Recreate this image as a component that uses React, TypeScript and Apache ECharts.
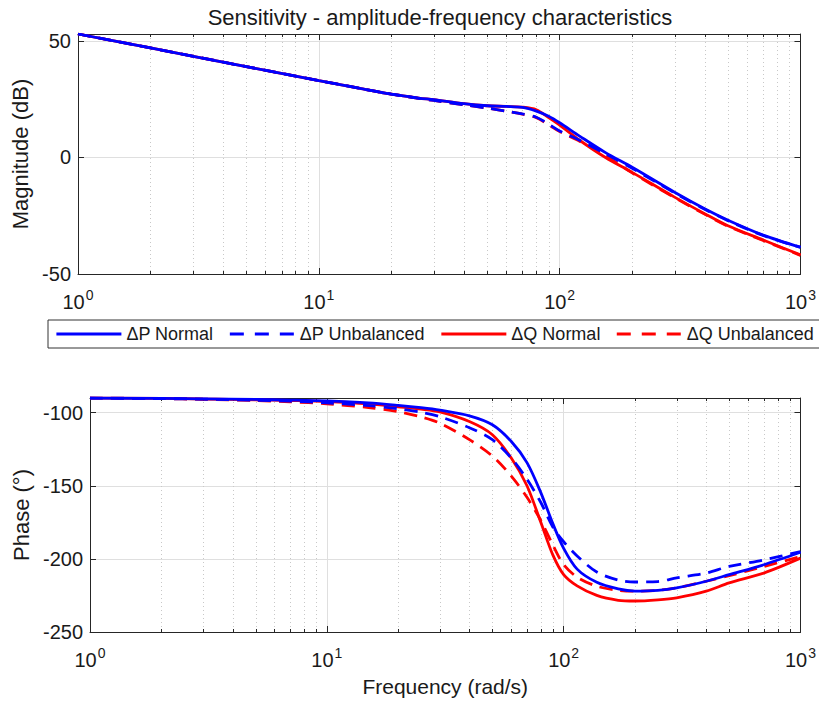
import React, { useEffect, useRef } from 'react';
import * as echarts from 'echarts';

const FONT = '"Liberation Sans", Arial, Helvetica, sans-serif';

const seriesNames = ['ΔP Normal', 'ΔP Unbalanced', 'ΔQ Normal', 'ΔQ Unbalanced'];
const seriesColors = ['#0000ff', '#0000ff', '#ff0000', '#ff0000'];
const seriesDashed = [false, true, false, true];

// Magnitude (dB)
const magFreq = [1, 2, 5, 10, 15, 20, 26, 30, 40, 50, 60, 70, 80, 90, 100, 121, 155, 200, 300, 400, 500, 700, 1000];
const magPNormal = [53, 47, 39, 33, 29.6, 27.2, 25.5, 24.8, 23.1, 22.2, 21.9, 21.5, 19.9, 17.7, 14.9, 9.2, 2.1, -4.2, -14.9, -22, -26.9, -33.3, -38.5];
const magPUnbal = [53, 47, 39, 33, 29.6, 27.2, 25.4, 24.5, 22.6, 21.2, 19.9, 18.7, 17.3, 14.3, 11.4, 7.4, 1.6, -4.6, -15.2, -22.2, -27.1, -33.5, -38.6];
const magQNormal = [53, 47, 39, 33, 29.6, 27.2, 25.5, 24.8, 23.1, 22.2, 21.9, 21.6, 20.5, 17.1, 13.9, 7.4, 0, -6.4, -17, -24.1, -29.3, -35.4, -41.8];
const magQUnbal = [53, 47, 39, 33, 29.6, 27.2, 25.4, 24.5, 22.6, 21.2, 19.9, 18.6, 17.1, 14.0, 11.1, 7.0, 0.8, -6.6, -17.2, -24.3, -29.5, -35.6, -42];

// Phase (deg)
const phaseFreq = [1, 2, 3, 5, 7, 10, 15, 20, 25, 30, 40, 50, 60, 70, 80, 90, 100, 114, 138, 170, 200, 250, 300, 400, 500, 700, 1000];
const phPNormal = [-90, -90.3, -90.6, -91, -91.4, -92, -93.3, -95, -96.6, -98.3, -102.2, -108.3, -119.6, -134.2, -154.5, -175.9, -192.8, -207, -216, -220.5, -222, -221.5, -219.8, -215.3, -210.8, -204, -195.5];
const phPUnbal = [-90, -90.4, -90.8, -91.5, -92.2, -93.3, -95.2, -97.3, -99.8, -102.8, -110.3, -118.5, -130.9, -145.5, -161.3, -178.2, -188.3, -198, -209, -214.5, -215.8, -215.5, -213, -209.7, -205.2, -200.7, -195];
const phQNormal = [-90, -90.3, -90.7, -91.2, -91.7, -92.4, -94, -96, -97.6, -99.5, -106.1, -115.1, -130.9, -150, -174.8, -197.3, -210.8, -218.5, -225, -228.3, -228.8, -228, -226.6, -222.1, -216.4, -209.7, -199.5];
const phQUnbal = [-90, -90.4, -90.9, -91.7, -92.6, -94, -96.5, -99.3, -103, -107.2, -118.5, -129.7, -143.2, -157.9, -173.6, -190.5, -204, -212.5, -218.7, -221.5, -222.1, -221.5, -219.8, -215.3, -211.5, -205.2, -198.4];

const minorFreqs = [2, 3, 4, 5, 6, 7, 8, 9, 20, 30, 40, 50, 60, 70, 80, 90, 200, 300, 400, 500, 600, 700, 800, 900];

const magRange = [-50, 53];
const phaseRange = [-250, -90];
const yTickStep = 50;

const FRAME = '#262626';
const GRID = '#dfdfdf';
const MINOR = '#c8c8c8';
const TEXT = '#1a1a1a';
const PLOT_DASH = [13, 8];
const LEGEND_DASH = [14, 11];

function pairs(xs: number[], ys: number[]) {
  return xs.map((x, i) => [x, ys[i]]);
}

function makeXAxes(gridIndex: number) {
  const common = {
    type: 'log' as const,
    logBase: 10,
    min: 1,
    max: 1000,
    gridIndex,
    axisLine: { show: true, onZero: false, lineStyle: { color: FRAME, width: 1 } },
    axisTick: { show: true, inside: true, length: 6, lineStyle: { color: FRAME } },
  };
  return [
    {
      ...common,
      position: 'bottom',
      splitLine: { show: true, lineStyle: { color: GRID, width: 1 } },
      axisLabel: {
        show: true,
        margin: 14,
        color: TEXT,
        fontFamily: FONT,
        formatter: (v: number) => `{b|10}{s|${Math.round(Math.log10(v))}}`,
        rich: {
          b: { fontSize: 20, fontFamily: FONT, color: TEXT, verticalAlign: 'bottom', lineHeight: 24 },
          s: { fontSize: 14, fontFamily: FONT, color: TEXT, verticalAlign: 'top', lineHeight: 24, padding: [0, 0, 0, 1] },
        },
      },
    },
    {
      ...common,
      position: 'top',
      splitLine: { show: false },
      axisLabel: { show: false },
    },
  ];
}

function makeYAxes(gridIndex: number, range: number[], name: string, nameGap: number) {
  const common = {
    type: 'value' as const,
    min: range[0],
    max: range[1],
    interval: yTickStep,
    gridIndex,
    axisLine: { show: true, onZero: false, lineStyle: { color: FRAME, width: 1 } },
    axisTick: { show: true, inside: true, length: 6, lineStyle: { color: FRAME } },
  };
  return [
    {
      ...common,
      position: 'left',
      name,
      nameLocation: 'middle',
      nameGap,
      nameTextStyle: { fontSize: 22, fontFamily: FONT, color: TEXT },
      splitLine: { show: true, lineStyle: { color: GRID, width: 1 } },
      axisLabel: {
        show: true,
        margin: 7,
        fontSize: 20,
        fontFamily: FONT,
        color: TEXT,
        formatter: (v: number) => (v % yTickStep === 0 ? String(v) : ''),
      },
    },
    {
      ...common,
      position: 'right',
      splitLine: { show: false },
      axisLabel: { show: false },
    },
  ];
}

function minorSeries(xAxisIndex: number, yAxisIndex: number, yMin: number) {
  return {
    type: 'custom',
    name: 'minor' + xAxisIndex,
    xAxisIndex,
    yAxisIndex,
    silent: true,
    z: 1,
    clip: false,
    data: minorFreqs.map((f) => [f, yMin]),
    renderItem: (params: any, api: any) => {
      const cs = params.coordSys;
      const x = Math.round(api.coord([api.value(0), yMin])[0]) + 0.5;
      const top = cs.y;
      const bottom = cs.y + cs.height;
      return {
        type: 'group',
        children: [
          {
            type: 'line',
            shape: { x1: x, y1: top, x2: x, y2: bottom },
            style: { stroke: MINOR, lineWidth: 1, lineDash: [1, 3] },
          },
          {
            type: 'line',
            shape: { x1: x, y1: bottom, x2: x, y2: bottom - 3 },
            style: { stroke: FRAME, lineWidth: 1 },
          },
          {
            type: 'line',
            shape: { x1: x, y1: top, x2: x, y2: top + 3 },
            style: { stroke: FRAME, lineWidth: 1 },
          },
        ],
      };
    },
  };
}

function lineSeries(idx: number, xAxisIndex: number, yAxisIndex: number, data: number[][]) {
  return {
    type: 'line',
    name: seriesNames[idx],
    xAxisIndex,
    yAxisIndex,
    data,
    symbol: 'none',
    showSymbol: false,
    smooth: 0.3,
    z: 3 + (idx < 2 ? 1 : 0),
    color: seriesColors[idx],
    lineStyle: {
      color: seriesColors[idx],
      width: 2.8,
      type: seriesDashed[idx] ? PLOT_DASH : 'solid',
    },
  };
}

export default function App() {
  const ref = useRef<HTMLDivElement>(null);

  useEffect(() => {
    if (!ref.current) return;
    const chart = echarts.init(ref.current, undefined, { renderer: 'svg' });
    const magData = [magPNormal, magPUnbal, magQNormal, magQUnbal];
    const phData = [phPNormal, phPUnbal, phQNormal, phQUnbal];
    const option: any = {
      animation: false,
      backgroundColor: '#ffffff',
      textStyle: { fontFamily: FONT },
      graphic: [
        {
          type: 'text',
          x: 440,
          y: 6,
          style: {
            text: 'Sensitivity - amplitude-frequency characteristics',
            fontSize: 22,
            fontFamily: FONT,
            fill: TEXT,
            align: 'center',
            verticalAlign: 'top',
          },
        },
      ],
      legend: {
        data: seriesNames.map((name, i) => ({
          name,
          lineStyle: {
            color: seriesColors[i],
            width: 2.8,
            type: seriesDashed[i] ? LEGEND_DASH : 'solid',
          },
        })),
        left: 48,
        top: 320,
        width: 790,
        orient: 'horizontal',
        padding: [4, 14, 4, 7],
        itemGap: 15,
        itemWidth: 65,
        itemHeight: 14,
        borderColor: '#333333',
        borderWidth: 1,
        backgroundColor: '#ffffff',
        itemStyle: { opacity: 0 },
        textStyle: { fontSize: 18, fontFamily: FONT, color: TEXT, lineHeight: 20 },
      },
      grid: [
        { left: 78, top: 34, width: 724, height: 240, containLabel: false },
        { left: 90, top: 398, width: 714, height: 234, containLabel: false },
      ],
      xAxis: [
        ...makeXAxes(0),
        ...makeXAxes(1).map((a, i) =>
          i === 0
            ? {
                ...a,
                name: 'Frequency (rad/s)',
                nameLocation: 'middle',
                nameGap: 44,
                nameTextStyle: { fontSize: 21, fontFamily: FONT, color: TEXT, verticalAlign: 'top' },
              }
            : a
        ),
      ],
      yAxis: [
        ...makeYAxes(0, magRange, 'Magnitude (dB)', 44),
        ...makeYAxes(1, phaseRange, 'Phase (°)', 47),
      ],
      series: [
        minorSeries(0, 0, magRange[0]),
        minorSeries(2, 2, phaseRange[0]),
        ...magData.map((ys, i) => lineSeries(i, 0, 0, pairs(magFreq, ys))),
        ...phData.map((ys, i) => lineSeries(i, 2, 2, pairs(phaseFreq, ys))),
      ],
    };
    chart.setOption(option);
    return () => {
      chart.dispose();
    };
  }, []);

  return (
    <div
      ref={ref}
      style={{ position: 'fixed', left: 0, top: 0, width: 819, height: 702, background: '#fff' }}
    />
  );
}
